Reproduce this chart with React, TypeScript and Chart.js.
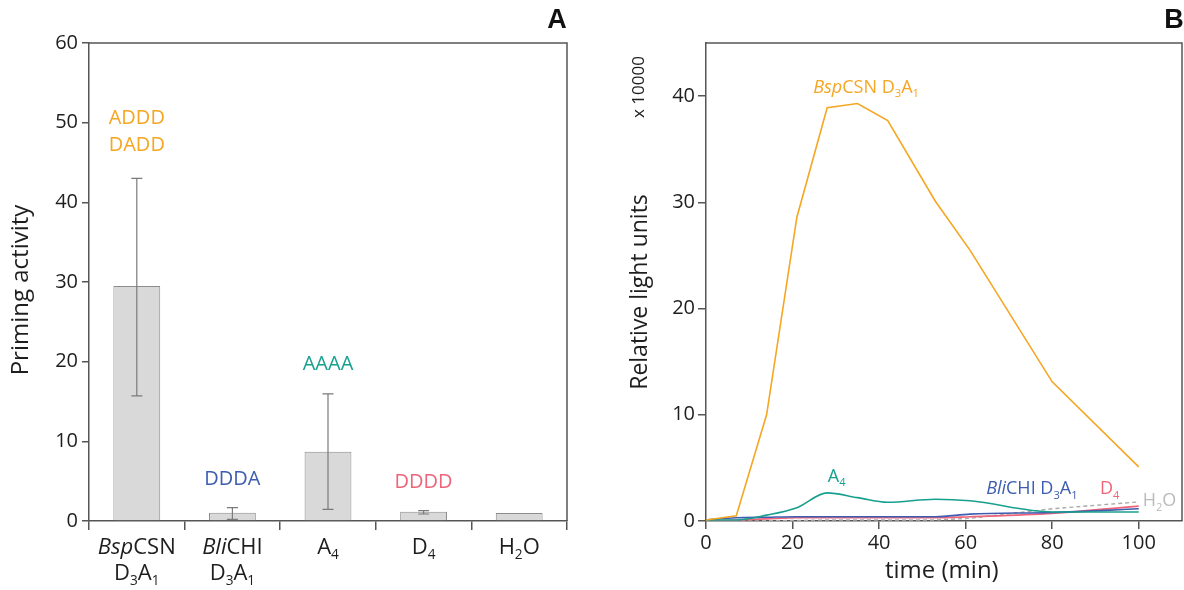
import React, { useEffect, useRef } from "react";
import { Chart, registerables } from "chart.js";

Chart.register(...registerables);

// ---------- Panel A data ----------
const categoriesA = ["*Bsp*CSN|D_3A_1", "*Bli*CHI|D_3A_1", "A_4", "D_4", "H_2O"];
const primingActivity = [29.5, 1.04, 8.7, 1.17, 1.0];
const primingErrLow: (number | null)[] = [15.7, 0.21, 1.46, 0.88, null];
const primingErrHigh: (number | null)[] = [43.0, 1.67, 15.95, 1.3, null];
const yTicksA = { min: 0, max: 60, step: 10 };

const annotTextA = ["ADDD", "DADD", "DDDA", "AAAA", "DDDD"];
const annotCatA = [0, 0, 1, 2, 3];
const annotValA = [50.7, 47.4, 5.4, 19.9, 5.1];

// ---------- Panel B data ----------
const timeMin = [0, 7, 14, 21, 28, 35, 42, 53, 61, 80, 100];
const bspCSN = [0.1, 0.5, 10.0, 28.6, 38.9, 39.3, 37.7, 30.1, 25.5, 13.1, 5.1];
const a4 = [0.1, 0.1, 0.55, 1.25, 2.65, 2.2, 1.76, 2.05, 1.9, 0.85, 0.85];
const bliCHI = [0.1, 0.3, 0.35, 0.4, 0.4, 0.4, 0.4, 0.4, 0.65, 0.8, 1.15];
const d4 = [0.0, 0.1, 0.2, 0.3, 0.3, 0.3, 0.3, 0.3, 0.4, 0.72, 1.4];
const h2o = [0.0, 0.0, 0.02, 0.05, 0.1, 0.1, 0.1, 0.1, 0.25, 1.15, 1.8];
const xRangeB = { min: 0, max: 110, step: 20 };
const yRangeB = { min: 0, max: 45, step: 10 };

const labelTextB = ["*Bsp*CSN D_3A_1", "A_4", "*Bli*CHI D_3A_1", "D_4", "H_2O"];
const labelXB = [37.0, 30.2, 75.3, 93.3, 104.8];
const labelYB = [40.9, 4.3, 3.1, 3.1, 2.0];

// ---------- styles ----------
const ORANGE = "#F5A623";
const TEAL = "#17A08D";
const BLUE = "#3E5DB0";
const PINK = "#EE6479";
const GRAYTXT = "#BBBBBB";
const AXIS = "#555555";
const TXT = "#1e1e1e";
const FONT = "Open Sans";

const annotColorA = [ORANGE, ORANGE, BLUE, TEAL, PINK];
const labelColorB = [ORANGE, TEAL, BLUE, PINK, GRAYTXT];

type Seg = { text: string; italic: boolean; sub: boolean };
function parseRich(s: string): Seg[] {
  const segs: Seg[] = [];
  let italic = false;
  for (let i = 0; i < s.length; i++) {
    const c = s[i];
    if (c === "*") { italic = !italic; continue; }
    if (c === "_") { i++; segs.push({ text: s[i], italic, sub: true }); continue; }
    const last = segs[segs.length - 1];
    if (last && !last.sub && last.italic === italic) last.text += c;
    else segs.push({ text: c, italic, sub: false });
  }
  return segs;
}

function drawRich(ctx: CanvasRenderingContext2D, s: string, cx: number, cy: number, size: number, color: string) {
  const segs = parseRich(s);
  const subSize = size * 0.62;
  const fontFor = (g: Seg) => `${g.italic ? "italic " : ""}${g.sub ? subSize : size}px "${FONT}"`;
  let total = 0;
  const widths = segs.map((g) => { ctx.font = fontFor(g); const w = ctx.measureText(g.text).width; total += w; return w; });
  let x = cx - total / 2;
  const base = cy + size * 0.357;
  ctx.save();
  ctx.fillStyle = color;
  ctx.textAlign = "left";
  ctx.textBaseline = "alphabetic";
  segs.forEach((g, i) => {
    ctx.font = fontFor(g);
    ctx.fillText(g.text, x, g.sub ? base + size * 0.24 : base);
    x += widths[i];
  });
  ctx.restore();
}

function drawRotated(ctx: CanvasRenderingContext2D, s: string, cx: number, cy: number, font: string, color: string) {
  ctx.save();
  ctx.translate(cx, cy);
  ctx.rotate(-Math.PI / 2);
  ctx.font = font;
  ctx.fillStyle = color;
  ctx.textAlign = "center";
  ctx.textBaseline = "middle";
  ctx.fillText(s, 0, 0);
  ctx.restore();
}

function drawBox(chart: any) {
  const { ctx, chartArea: a } = chart;
  ctx.save();
  ctx.strokeStyle = AXIS;
  ctx.lineWidth = 1.5;
  ctx.beginPath();
  ctx.moveTo(a.left, a.top);
  ctx.lineTo(a.right, a.top);
  ctx.lineTo(a.right, a.bottom);
  ctx.stroke();
  ctx.restore();
}

function drawPanelLetter(ctx: CanvasRenderingContext2D, s: string, x: number, y: number) {
  ctx.save();
  ctx.font = `bold 27px "Liberation Sans"`;
  ctx.fillStyle = "#111";
  ctx.textAlign = "center";
  ctx.textBaseline = "middle";
  ctx.fillText(s, x, y);
  ctx.restore();
}

const panelAPlugin = {
  id: "panelA",
  afterDatasetsDraw(chart: any) {
    const { ctx, scales } = chart;
    const x = scales.x, y = scales.y;
    ctx.save();
    ctx.strokeStyle = "#7a7a7a";
    ctx.lineWidth = 1.2;
    primingActivity.forEach((_, i) => {
      const lo = primingErrLow[i], hi = primingErrHigh[i];
      if (lo == null || hi == null) return;
      const px = x.getPixelForValue(i);
      const y1 = y.getPixelForValue(lo), y2 = y.getPixelForValue(hi);
      ctx.beginPath();
      ctx.moveTo(px, y1); ctx.lineTo(px, y2);
      ctx.moveTo(px - 5.5, y1); ctx.lineTo(px + 5.5, y1);
      ctx.moveTo(px - 5.5, y2); ctx.lineTo(px + 5.5, y2);
      ctx.stroke();
    });
    ctx.restore();
  },
  afterDraw(chart: any) {
    const { ctx, scales, chartArea } = chart;
    const x = scales.x, y = scales.y;
    drawBox(chart);
    annotTextA.forEach((t, i) => {
      drawRich(ctx, t, x.getPixelForValue(annotCatA[i]), y.getPixelForValue(annotValA[i]), 20, annotColorA[i]);
    });
    categoriesA.forEach((c, i) => {
      const lines = c.split("|");
      lines.forEach((ln, j) => {
        drawRich(ctx, ln, x.getPixelForValue(i), chartArea.bottom + 25 + j * 26, 22, TXT);
      });
    });
    drawRotated(ctx, "Priming activity", 21, 290, `24px "${FONT}"`, TXT);
    drawPanelLetter(ctx, "A", 557, 21);
  },
};

const panelBPlugin = {
  id: "panelB",
  afterDraw(chart: any) {
    const { ctx, scales } = chart;
    const x = scales.x, y = scales.y;
    drawBox(chart);
    labelTextB.forEach((t, i) => {
      drawRich(ctx, t, x.getPixelForValue(labelXB[i]), y.getPixelForValue(labelYB[i]), 18, labelColorB[i]);
    });
    drawRotated(ctx, "Relative light units", 48, 292, `23px "${FONT}"`, TXT);
    drawRotated(ctx, "x 10000", 47, 87, `17px "${FONT}"`, TXT);
    ctx.save();
    ctx.font = `24px "${FONT}"`;
    ctx.fillStyle = TXT;
    ctx.textAlign = "center";
    ctx.textBaseline = "middle";
    ctx.fillText("time (min)", x.getPixelForValue(54.5), 571);
    ctx.restore();
    drawPanelLetter(ctx, "B", 582, 21);
  },
};

function gridOpts(len: number) {
  return { drawOnChartArea: false, drawTicks: true, tickLength: len, color: AXIS, lineWidth: 1.5 };
}

export default function App() {
  const refA = useRef<HTMLCanvasElement>(null);
  const refB = useRef<HTMLCanvasElement>(null);

  useEffect(() => {
    Chart.defaults.font.family = FONT;
    const chartA = new Chart(refA.current!, {
      type: "bar",
      data: {
        labels: categoriesA,
        datasets: [
          {
            data: primingActivity,
            backgroundColor: "#D9D9D9",
            borderColor: "#8C8C8C",
            borderWidth: 1,
            barPercentage: 0.49,
            categoryPercentage: 1,
          },
        ],
      },
      options: {
        animation: false,
        responsive: false,
        devicePixelRatio: 1,
        layout: { padding: { top: 43, right: 25, left: 0, bottom: 0 } },
        plugins: { legend: { display: false }, tooltip: { enabled: false } },
        scales: {
          x: {
            grid: { ...gridOpts(9), offset: true },
            border: { color: AXIS, width: 1.5 },
            ticks: { display: false },
            afterFit: (s: any) => { s.height = 69; },
          },
          y: {
            min: yTicksA.min,
            max: yTicksA.max,
            ticks: { stepSize: yTicksA.step, color: TXT, font: { size: 20 }, padding: 4 },
            grid: gridOpts(7),
            border: { color: AXIS, width: 1.5 },
            afterFit: (s: any) => { s.width = 89; },
          },
        },
      } as any,
      plugins: [panelAPlugin],
    });

    const mk = (arr: number[]) => arr.map((v, i) => ({ x: timeMin[i], y: v }));
    const chartB = new Chart(refB.current!, {
      type: "line",
      data: {
        datasets: [
          { label: "BspCSN D3A1", data: mk(bspCSN), borderColor: ORANGE, borderWidth: 1.6, pointRadius: 0, tension: 0 },
          { label: "A4", data: mk(a4), borderColor: TEAL, borderWidth: 1.6, pointRadius: 0, cubicInterpolationMode: "monotone" },
          { label: "BliCHI D3A1", data: mk(bliCHI), borderColor: BLUE, borderWidth: 1.6, pointRadius: 0, cubicInterpolationMode: "monotone" },
          { label: "D4", data: mk(d4), borderColor: PINK, borderWidth: 1.6, pointRadius: 0, cubicInterpolationMode: "monotone" },
          { label: "H2O", data: mk(h2o), borderColor: "#AAAAAA", borderWidth: 1.4, borderDash: [4, 3], pointRadius: 0, tension: 0 },
        ],
      },
      options: {
        animation: false,
        responsive: false,
        devicePixelRatio: 1,
        layout: { padding: { top: 43, right: 2, left: 0, bottom: 0 } },
        plugins: { legend: { display: false }, tooltip: { enabled: false } },
        scales: {
          x: {
            type: "linear",
            min: xRangeB.min,
            max: xRangeB.max,
            ticks: { stepSize: xRangeB.step, includeBounds: false, color: TXT, font: { size: 20 }, padding: 2 },
            afterBuildTicks: (s: any) => { s.ticks = s.ticks.filter((t: any) => t.value <= 100); },
            grid: gridOpts(8),
            border: { color: AXIS, width: 1.5 },
            afterFit: (s: any) => { s.height = 69; },
          },
          y: {
            min: yRangeB.min,
            max: yRangeB.max,
            ticks: { stepSize: yRangeB.step, includeBounds: false, color: TXT, font: { size: 20 }, padding: 3 },
            afterBuildTicks: (s: any) => { s.ticks = s.ticks.filter((t: any) => t.value <= 40); },
            grid: gridOpts(8),
            border: { color: AXIS, width: 1.5 },
            afterFit: (s: any) => { s.width = 114; },
          },
        },
      } as any,
      plugins: [panelBPlugin],
    });

    return () => {
      chartA.destroy();
      chartB.destroy();
    };
  }, []);

  return (
    <div style={{ position: "fixed", left: 0, top: 0, width: 1184, height: 590, background: "#fff" }}>
      <canvas ref={refA} width={592} height={590} style={{ position: "absolute", left: 0, top: 0, width: 592, height: 590 }} />
      <canvas ref={refB} width={592} height={590} style={{ position: "absolute", left: 592, top: 0, width: 592, height: 590 }} />
    </div>
  );
}
